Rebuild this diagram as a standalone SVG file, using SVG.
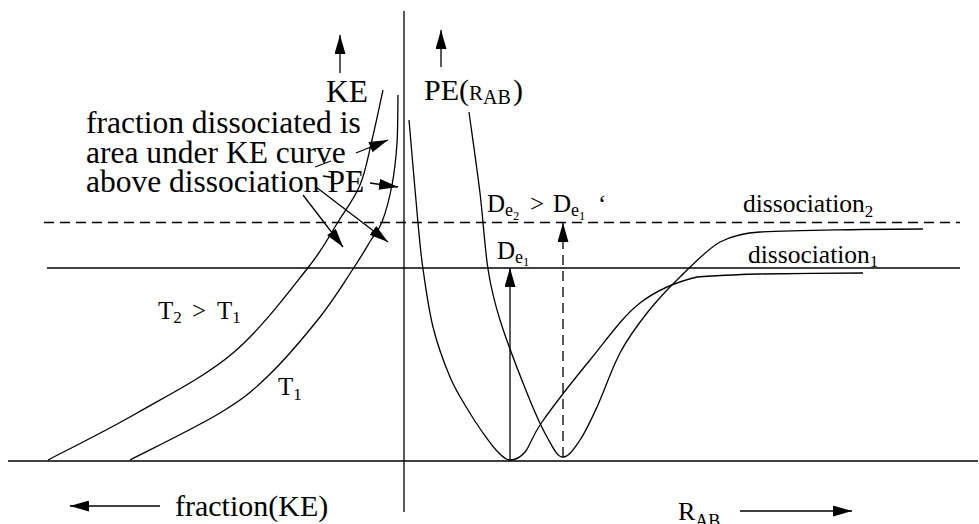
<svg xmlns="http://www.w3.org/2000/svg" width="979" height="524" viewBox="0 0 979 524">
<style>
.ln{stroke:#000;stroke-width:1.3;fill:none}
.dash{stroke-dasharray:10 6}
.txt{font-family:"Liberation Serif","Times New Roman",serif;fill:#000}
</style>
<defs>
<marker id="ah" markerUnits="userSpaceOnUse" markerWidth="19" markerHeight="11" refX="19" refY="5.5" orient="auto">
<path d="M0,0 L19,5.5 L0,11 z" fill="#000"/>
</marker>
</defs>
<rect width="979" height="524" fill="#fff"/>
<g id="axes">
<line class="ln" x1="404" y1="11" x2="404" y2="512"/>
<line class="ln" x1="8" y1="461" x2="978" y2="461"/>
<line class="ln" x1="47" y1="268" x2="960" y2="268"/>
<line class="ln dash" x1="44" y1="222.5" x2="960" y2="222.5"/>
</g>
<g id="ke-curves">
<path id="curve-T2" class="ln" d="M383,90 C381.2,98.3 375.8,124.2 372,140 C368.2,155.8 365.7,171.3 360,185 C354.3,198.7 346.8,208 338,222 C329.2,236 324.5,247.2 307,269 C289.5,290.8 261.3,329 233,353 C204.7,377 167.8,395.2 137,413 C106.2,430.8 62.8,452.2 48,460"/>
<path id="curve-T1" class="ln" d="M398,95 C397.8,103 398,128 397,143 C396,158 394.5,171.8 392,185 C389.5,198.2 385.5,212.8 382,222 C378.5,231.2 375.8,232.2 371,240 C366.2,247.8 361.5,256.2 353,269 C344.5,281.8 334.3,299 320,317 C305.7,335 283.7,361 267,377 C250.3,393 242.8,399.2 220,413 C197.2,426.8 145,452.2 130,460"/>
</g>
<g id="pe-curves">
<path id="pe-1" class="ln" d="M409,120 C410.5,137.2 415.7,198.2 418,223 C420.3,247.8 420.5,251.7 423,269 C425.5,286.3 428.5,309 433,327 C437.5,345 444.2,363.2 450,377 C455.8,390.8 462.5,400.7 468,410 C473.5,419.3 478.2,426.2 483,433 C487.8,439.8 492.5,446.5 497,451 C501.5,455.5 505,460 510,460 C515,460 519.7,458.3 525,452 C530.3,445.7 531.2,437.3 542,422 C552.8,406.7 573.7,379.8 590,360 C606.3,340.2 622.2,316.8 640,303 C657.8,289.2 677,281.8 697,277 C720,275.5 745,274.2 760,274 C780,273.8 840,273 863,273"/>
<path id="pe-2" class="ln" d="M469,112 C470.8,125.5 476.8,166.8 480,193 C483.2,219.2 484.7,247.8 488,269 C491.3,290.2 493.5,299.3 500,320 C506.5,340.7 519.2,373.5 527,393 C534.8,412.5 541,426.3 547,437 C553,447.7 557,457 563,457 C569,457 574.3,448.3 580,440 C585.7,431.7 590.3,421.5 597,407 C603.7,392.5 611.7,368.7 620,353 C628.3,337.3 637,325.7 647,313 C657,300.3 667.8,288.8 680,277 C692.2,265.2 706.7,249.5 720,242 C733,235.5 748,232.5 760,232 C790,230.5 880,229 923,229"/>
</g>
<g id="connectors">
<line class="ln" x1="340" y1="73" x2="340" y2="35" marker-end="url(#ah)"/>
<line class="ln" x1="441" y1="67" x2="441" y2="30" marker-end="url(#ah)"/>
<line class="ln" x1="510" y1="460" x2="510" y2="268" marker-end="url(#ah)"/>
<line class="ln dash" x1="563" y1="457" x2="563" y2="223" marker-end="url(#ah)"/>
<line class="ln" x1="160" y1="506" x2="70" y2="506" marker-end="url(#ah)"/>
<line class="ln" x1="740" y1="511" x2="852" y2="511" marker-end="url(#ah)"/>
<line class="ln" x1="315" y1="167" x2="331" y2="161"/>
<line class="ln" x1="356" y1="153" x2="388" y2="140" marker-end="url(#ah)"/>
<line class="ln" x1="323" y1="176" x2="333" y2="177.5"/>
<line class="ln" x1="370" y1="183" x2="398" y2="187" marker-end="url(#ah)"/>
<line class="ln" x1="303" y1="195" x2="343" y2="247" marker-end="url(#ah)"/>
<line class="ln" x1="316" y1="187" x2="388" y2="242" marker-end="url(#ah)"/>
</g>
<g id="labels" class="txt">
<text x="326" y="102" font-size="31.5">KE</text>
<text x="86" y="133" font-size="31.5">fraction dissociated is</text>
<text x="86" y="163" font-size="31.5">area under KE curve</text>
<text x="86" y="192" font-size="31.5">above dissociation PE</text>
<text x="424" y="100" font-size="30">PE(<tspan font-size="21">R</tspan><tspan font-size="20" dy="4">AB</tspan><tspan x="513" dy="-4">)</tspan></text>
<text x="487" y="212" font-size="25">D<tspan x="505" dy="4" font-size="18">e</tspan><tspan x="513" dy="4" font-size="12.5">2</tspan><tspan x="530" dy="-8">&gt;</tspan><tspan x="553">D</tspan><tspan x="571" dy="4" font-size="18">e</tspan><tspan x="579" dy="4" font-size="12.5">1</tspan><tspan x="598" dy="-8">‘</tspan></text>
<text x="497" y="259" font-size="25">D<tspan x="515" dy="4" font-size="18">e</tspan><tspan x="523" dy="3" font-size="12.5">1</tspan></text>
<text x="743" y="212" font-size="25.5">dissociation<tspan dy="5" font-size="17">2</tspan></text>
<text x="748" y="263" font-size="25.5">dissociation<tspan dy="4" font-size="17">1</tspan></text>
<text x="158" y="319" font-size="25">T<tspan dy="4" font-size="17">2</tspan><tspan x="192" dy="-4">&gt;</tspan><tspan x="217">T</tspan><tspan dy="4" font-size="17">1</tspan></text>
<text x="278" y="395" font-size="25">T<tspan dy="5" font-size="17">1</tspan></text>
<text x="175" y="516" font-size="30">fraction(KE)</text>
<text x="678" y="520" font-size="26">R<tspan dy="7" font-size="18">AB</tspan></text>
</g>
</svg>
